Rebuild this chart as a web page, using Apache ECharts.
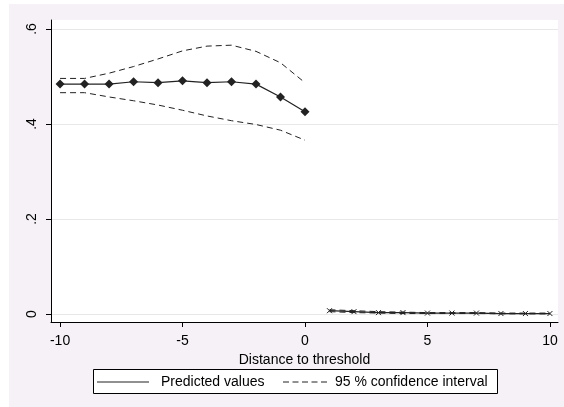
<!DOCTYPE html>
<html><head><meta charset="utf-8">
<script src="https://cdn.jsdelivr.net/npm/echarts@6/dist/echarts.min.js"></script>
<style>html,body{margin:0;padding:0;background:#fff}#c{width:564px;height:407px}</style>
</head><body><div id="c"></div>
<script>
// ---- data ----
const xLeft = [-10, -9, -8, -7, -6, -5, -4, -3, -2, -1, 0];
const predLeft = [0.484, 0.484, 0.484, 0.489, 0.487, 0.491, 0.487, 0.489, 0.484, 0.457, 0.426];
const upperLeft = [0.496, 0.496, 0.507, 0.521, 0.537, 0.554, 0.564, 0.566, 0.553, 0.529, 0.487];
const lowerLeft = [0.466, 0.466, 0.457, 0.449, 0.440, 0.429, 0.417, 0.407, 0.399, 0.387, 0.366];

const xRight = [1, 2, 3, 4, 5, 6, 7, 8, 9, 10];
const predRight = [0.007, 0.005, 0.003, 0.003, 0.002, 0.002, 0.002, 0.001, 0.001, 0.001];
const upperRight = [0.009, 0.007, 0.005, 0.004, 0.003, 0.003, 0.003, 0.002, 0.002, 0.002];
const lowerRight = [0.005, 0.003, 0.002, 0.001, 0.001, 0.001, 0.001, 0.0005, 0.0003, 0.0002];

const xTicks = [-10, -5, 0, 5, 10];
const yTicks = [0, 0.2, 0.4, 0.6];
const yTickLabels = {0: '0', 0.2: '.2', 0.4: '.4', 0.6: '.6'};

const xTitle = 'Distance to threshold';
const legendSolid = 'Predicted values';
const legendDashed = '95 % confidence interval';

const pairs = (xs, ys) => xs.map((x, i) => [x, ys[i]]);
const FONT = 'Liberation Sans, Arial, sans-serif';
const INK = '#222';

const chart = echarts.init(document.getElementById('c'), null, {renderer: 'canvas'});
const dashed = {color: INK, width: 1, type: [6, 4]};
const solid = {color: INK, width: 1.2};

chart.setOption({
  backgroundColor: '#f5f1f6',
  animation: false,
  grid: {left: 51, right: 6, top: 20, bottom: 85, show: true, backgroundColor: '#ffffff', borderWidth: 0},
  xAxis: {
    type: 'value', min: -10.37, max: 10.33,
    name: xTitle, nameLocation: 'middle', nameGap: 23,
    nameTextStyle: {fontFamily: FONT, fontSize: 14, color: '#000'},
    axisLine: {show: true, onZero: false, lineStyle: {color: '#000', width: 1}},
    axisTick: {show: true, length: 5, customValues: xTicks, lineStyle: {color: '#000'}},
    axisLabel: {customValues: xTicks, margin: 12, fontFamily: FONT, fontSize: 14, color: '#000'},
    splitLine: {show: false}
  },
  yAxis: {
    type: 'value', min: -0.0168, max: 0.619,
    axisLine: {show: true, onZero: false, lineStyle: {color: '#000', width: 1}},
    axisTick: {show: true, length: 5, customValues: yTicks, lineStyle: {color: '#000'}},
    axisLabel: {customValues: yTicks, rotate: 90, margin: 12, fontFamily: FONT, fontSize: 14, color: '#000',
      formatter: v => yTickLabels[Math.round(v * 10) / 10] ?? ''},
    splitLine: {show: true, lineStyle: {color: '#e8e8e8', width: 1}}
  },
  series: [
    {type: 'line', data: pairs(xLeft, upperLeft), symbol: 'none', lineStyle: dashed, z: 3},
    {type: 'line', data: pairs(xLeft, lowerLeft), symbol: 'none', lineStyle: dashed, z: 3},
    {type: 'line', data: pairs(xLeft, predLeft), symbol: 'diamond', symbolSize: 9,
      itemStyle: {color: INK}, lineStyle: solid, z: 4},
    {type: 'line', data: pairs(xRight, upperRight), symbol: 'none', lineStyle: dashed, z: 3},
    {type: 'line', data: pairs(xRight, lowerRight), symbol: 'none', lineStyle: dashed, z: 3},
    {type: 'line', data: pairs(xRight, predRight), symbol: 'path://M0,0L10,10M10,0L0,10', symbolSize: 5,
      itemStyle: {color: 'transparent', borderColor: INK, borderWidth: 1}, lineStyle: solid, z: 4}
  ],
  graphic: [
    {type: 'rect', shape: {x: 0, y: 0, width: 564, height: 4}, style: {fill: '#fff'}, silent: true},
    {type: 'rect', shape: {x: 0, y: 0, width: 9, height: 407}, style: {fill: '#fff'}, silent: true},
    {type: 'rect', shape: {x: 93.5, y: 369.5, width: 404, height: 24}, style: {fill: '#fff', stroke: '#000', lineWidth: 1}},
    {type: 'line', shape: {x1: 97, y1: 382, x2: 149, y2: 382}, style: {stroke: INK, lineWidth: 1.2}},
    {type: 'text', x: 161, y: 382, style: {text: legendSolid, font: '14px ' + FONT, fill: '#000', verticalAlign: 'middle'}},
    {type: 'line', shape: {x1: 283, y1: 382, x2: 328, y2: 382}, style: {stroke: INK, lineWidth: 1, lineDash: [6, 3.5]}},
    {type: 'text', x: 335, y: 382, style: {text: legendDashed, font: '14px ' + FONT, fill: '#000', verticalAlign: 'middle'}}
  ]
});
</script>
</body></html>
